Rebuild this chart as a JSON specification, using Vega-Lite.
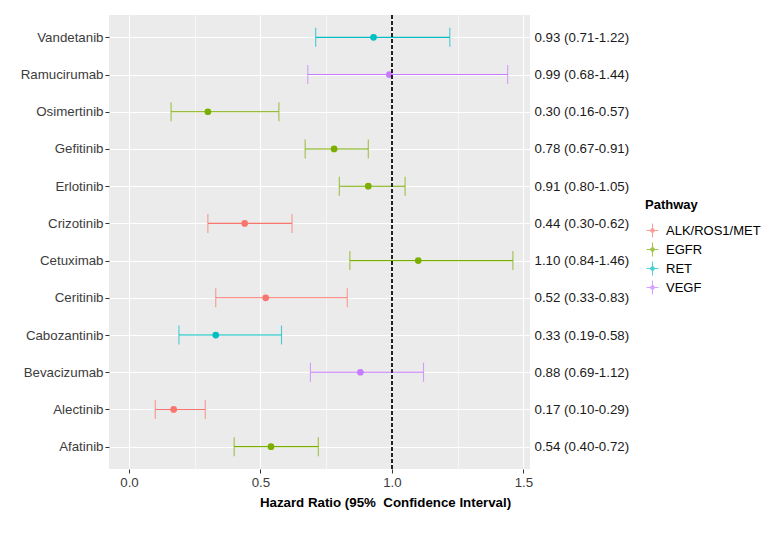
{
  "$schema": "https://vega.github.io/schema/vega-lite/v6.json",
  "width": 421,
  "height": 454,
  "autosize": {"type": "none"},
  "padding": {"left": 109, "top": 15, "right": 241, "bottom": 64},
  "config": {
    "font": "Liberation Sans",
    "view": {"fill": "#EBEBEB", "stroke": null},
    "axis": {"domain": false, "labelFontSize": 13.3, "labelColor": "#3C3C3C", "tickColor": "#333333", "tickSize": 4, "labelFont": "Liberation Sans"}
  },
  "data": {
    "values": [
      {"drug": "Vandetanib", "pathway": "RET", "hr": 0.93, "lower": 0.71, "upper": 1.22, "label": "0.93 (0.71-1.22)"},
      {"drug": "Ramucirumab", "pathway": "VEGF", "hr": 0.99, "lower": 0.68, "upper": 1.44, "label": "0.99 (0.68-1.44)"},
      {"drug": "Osimertinib", "pathway": "EGFR", "hr": 0.30, "lower": 0.16, "upper": 0.57, "label": "0.30 (0.16-0.57)"},
      {"drug": "Gefitinib", "pathway": "EGFR", "hr": 0.78, "lower": 0.67, "upper": 0.91, "label": "0.78 (0.67-0.91)"},
      {"drug": "Erlotinib", "pathway": "EGFR", "hr": 0.91, "lower": 0.80, "upper": 1.05, "label": "0.91 (0.80-1.05)"},
      {"drug": "Crizotinib", "pathway": "ALK/ROS1/MET", "hr": 0.44, "lower": 0.30, "upper": 0.62, "label": "0.44 (0.30-0.62)"},
      {"drug": "Cetuximab", "pathway": "EGFR", "hr": 1.10, "lower": 0.84, "upper": 1.46, "label": "1.10 (0.84-1.46)"},
      {"drug": "Ceritinib", "pathway": "ALK/ROS1/MET", "hr": 0.52, "lower": 0.33, "upper": 0.83, "label": "0.52 (0.33-0.83)"},
      {"drug": "Cabozantinib", "pathway": "RET", "hr": 0.33, "lower": 0.19, "upper": 0.58, "label": "0.33 (0.19-0.58)"},
      {"drug": "Bevacizumab", "pathway": "VEGF", "hr": 0.88, "lower": 0.69, "upper": 1.12, "label": "0.88 (0.69-1.12)"},
      {"drug": "Alectinib", "pathway": "ALK/ROS1/MET", "hr": 0.17, "lower": 0.10, "upper": 0.29, "label": "0.17 (0.10-0.29)"},
      {"drug": "Afatinib", "pathway": "EGFR", "hr": 0.54, "lower": 0.40, "upper": 0.72, "label": "0.54 (0.40-0.72)"}
    ]
  },
  "layer": [
    {
      "encoding": {
        "y": {
          "field": "drug", "type": "nominal",
          "sort": ["Vandetanib", "Ramucirumab", "Osimertinib", "Gefitinib", "Erlotinib", "Crizotinib", "Cetuximab", "Ceritinib", "Cabozantinib", "Bevacizumab", "Alectinib", "Afatinib"],
          "scale": {"type": "point", "padding": 0.6},
          "axis": {"title": null, "grid": true, "gridColor": "#FFFFFF", "gridWidth": 1.1, "labelPadding": 2}
        },
        "color": {
          "field": "pathway", "type": "nominal",
          "scale": {"domain": ["ALK/ROS1/MET", "EGFR", "RET", "VEGF"], "range": ["#F8766D", "#7CAE00", "#00BFC4", "#C77CFF"]},
          "legend": {
            "orient": "none", "legendX": 536, "legendY": 184,
            "title": "Pathway", "titleFontWeight": "bold", "titleFontSize": 13, "titleColor": "#000000",
            "labelFontSize": 13, "labelColor": "#000000", "labelOffset": 6,
            "symbolType": "M-0.85,0H0.85M0,-1V1M-0.28,0A0.28,0.28,0,1,1,0.28,0A0.28,0.28,0,1,1,-0.28,0Z",
            "symbolSize": 196, "symbolStrokeWidth": 1, "rowPadding": 0, "titlePadding": 11
          }
        }
      },
      "layer": [
        {
          "mark": {"type": "rule", "strokeWidth": 1.1},
          "encoding": {
            "x": {
              "field": "lower", "type": "quantitative",
              "scale": {"domain": [-0.076, 1.525], "nice": false, "zero": false},
              "axis": {
                "title": "Hazard Ratio (95%\u00a0 Confidence Interval)",
                "titleFontSize": 13.3, "titleFontWeight": "bold", "titleColor": "#000000", "titleX": 276,
                "titlePadding": 7,
                "values": [0, 0.25, 0.5, 0.75, 1, 1.25, 1.5],
                "labelExpr": "datum.value % 0.5 === 0 ? format(datum.value, '.1f') : ''",
                "grid": true, "gridColor": "#FFFFFF",
                "gridWidth": {"condition": {"test": "datum.value % 0.5 !== 0", "value": 0.55}, "value": 1.1},
                "tickOpacity": {"condition": {"test": "datum.value % 0.5 !== 0", "value": 0}, "value": 1},
                "labelPadding": 2
              }
            },
            "x2": {"field": "upper"}
          }
        },
        {
          "mark": {"type": "tick", "size": 19, "thickness": 1.1},
          "encoding": {"x": {"field": "lower", "type": "quantitative"}}
        },
        {
          "mark": {"type": "tick", "size": 19, "thickness": 1.1},
          "encoding": {"x": {"field": "upper", "type": "quantitative"}}
        },
        {
          "mark": {"type": "circle", "size": 45, "opacity": 1},
          "encoding": {"x": {"field": "hr", "type": "quantitative"}}
        },
        {
          "mark": {"type": "rule", "strokeDash": [4, 2], "color": "#222222", "strokeWidth": 1},
          "encoding": {"x": {"datum": 1}, "color": {"value": "#222222"}, "y": null}
        }
      ]
    },
    {
      "mark": {"type": "point", "opacity": 0},
      "encoding": {
        "y": {
          "field": "label", "type": "nominal",
          "sort": ["0.93 (0.71-1.22)", "0.99 (0.68-1.44)", "0.30 (0.16-0.57)", "0.78 (0.67-0.91)", "0.91 (0.80-1.05)", "0.44 (0.30-0.62)", "1.10 (0.84-1.46)", "0.52 (0.33-0.83)", "0.33 (0.19-0.58)", "0.88 (0.69-1.12)", "0.17 (0.10-0.29)", "0.54 (0.40-0.72)"],
          "scale": {"type": "point", "padding": 0.6},
          "axis": {"orient": "right", "title": null, "grid": false, "ticks": false, "labelPadding": 4, "labelColor": "#1A1A1A"}
        },
        "x": {"field": "hr", "type": "quantitative"}
      }
    }
  ],
  "resolve": {"scale": {"y": "independent"}}
}
